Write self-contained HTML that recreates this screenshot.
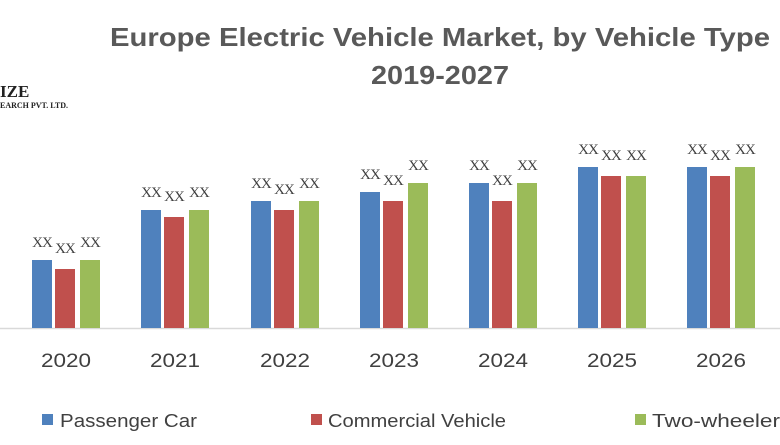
<!DOCTYPE html><html><head><style>body{margin:0;background:#fff}</style></head><body>
<svg width="780" height="440" xmlns="http://www.w3.org/2000/svg" font-family="Liberation Sans, sans-serif">
<rect width="780" height="440" fill="#fff"/>
<text x="440" y="46" text-anchor="middle" font-size="26" font-weight="bold" fill="#595959" textLength="660" lengthAdjust="spacingAndGlyphs">Europe Electric Vehicle Market, by Vehicle Type</text>
<text x="440" y="84" text-anchor="middle" font-size="26" font-weight="bold" fill="#595959" textLength="138" lengthAdjust="spacingAndGlyphs">2019-2027</text>
<text x="0" y="97" font-family="Liberation Serif, serif" font-weight="bold" font-size="17" fill="#222">IZE</text>
<text x="0" y="108" font-family="Liberation Serif, serif" font-weight="bold" font-size="8" fill="#222">EARCH PVT. LTD.</text>
<line x1="0" y1="328.5" x2="780" y2="328.5" stroke="#d9d9d9" stroke-width="1.5"/>
<g>
<rect x="32" y="260" width="20" height="68" fill="#4f81bd"/><rect x="55" y="269" width="20" height="59" fill="#c0504d"/><rect x="80" y="260" width="20" height="68" fill="#9bbb59"/>
<rect x="141" y="210" width="20" height="118" fill="#4f81bd"/><rect x="164" y="217" width="20" height="111" fill="#c0504d"/><rect x="189" y="210" width="20" height="118" fill="#9bbb59"/>
<rect x="251" y="201" width="20" height="127" fill="#4f81bd"/><rect x="274" y="210" width="20" height="118" fill="#c0504d"/><rect x="299" y="201" width="20" height="127" fill="#9bbb59"/>
<rect x="360" y="192" width="20" height="136" fill="#4f81bd"/><rect x="383" y="201" width="20" height="127" fill="#c0504d"/><rect x="408" y="183" width="20" height="145" fill="#9bbb59"/>
<rect x="469" y="183" width="20" height="145" fill="#4f81bd"/><rect x="492" y="201" width="20" height="127" fill="#c0504d"/><rect x="517" y="183" width="20" height="145" fill="#9bbb59"/>
<rect x="578" y="167" width="20" height="161" fill="#4f81bd"/><rect x="601" y="176" width="20" height="152" fill="#c0504d"/><rect x="626" y="176" width="20" height="152" fill="#9bbb59"/>
<rect x="687" y="167" width="20" height="161" fill="#4f81bd"/><rect x="710" y="176" width="20" height="152" fill="#c0504d"/><rect x="735" y="167" width="20" height="161" fill="#9bbb59"/>
</g>
<g font-size="15" fill="#404040" text-anchor="middle" font-family="Liberation Serif, serif" letter-spacing="-1">
<text x="42" y="247">XX</text><text x="65" y="253">XX</text><text x="90" y="247">XX</text>
<text x="151" y="197">XX</text><text x="174" y="201">XX</text><text x="199" y="197">XX</text>
<text x="261" y="188">XX</text><text x="284" y="194">XX</text><text x="309" y="188">XX</text>
<text x="370" y="179">XX</text><text x="393" y="185">XX</text><text x="418" y="170">XX</text>
<text x="479" y="170">XX</text><text x="502" y="185">XX</text><text x="527" y="170">XX</text>
<text x="588" y="154">XX</text><text x="611" y="160">XX</text><text x="636" y="160">XX</text>
<text x="697" y="154">XX</text><text x="720" y="160">XX</text><text x="745" y="154">XX</text>
</g>
<g font-size="19" fill="#404040" text-anchor="middle">
<text x="66" y="367" textLength="50" lengthAdjust="spacingAndGlyphs">2020</text><text x="175" y="367" textLength="50" lengthAdjust="spacingAndGlyphs">2021</text><text x="285" y="367" textLength="50" lengthAdjust="spacingAndGlyphs">2022</text><text x="394" y="367" textLength="50" lengthAdjust="spacingAndGlyphs">2023</text><text x="503" y="367" textLength="50" lengthAdjust="spacingAndGlyphs">2024</text><text x="612" y="367" textLength="50" lengthAdjust="spacingAndGlyphs">2025</text><text x="721" y="367" textLength="50" lengthAdjust="spacingAndGlyphs">2026</text></g>
<g font-size="18" fill="#404040">
<rect x="42" y="414" width="11" height="11" fill="#4f81bd"/><text x="60" y="427" textLength="137" lengthAdjust="spacingAndGlyphs">Passenger Car</text>
<rect x="311" y="414" width="11" height="11" fill="#c0504d"/><text x="328" y="427" textLength="178" lengthAdjust="spacingAndGlyphs">Commercial Vehicle</text>
<rect x="635" y="414" width="11" height="11" fill="#9bbb59"/><text x="652" y="427" textLength="128" lengthAdjust="spacingAndGlyphs">Two-wheeler</text></g>
</svg></body></html>
